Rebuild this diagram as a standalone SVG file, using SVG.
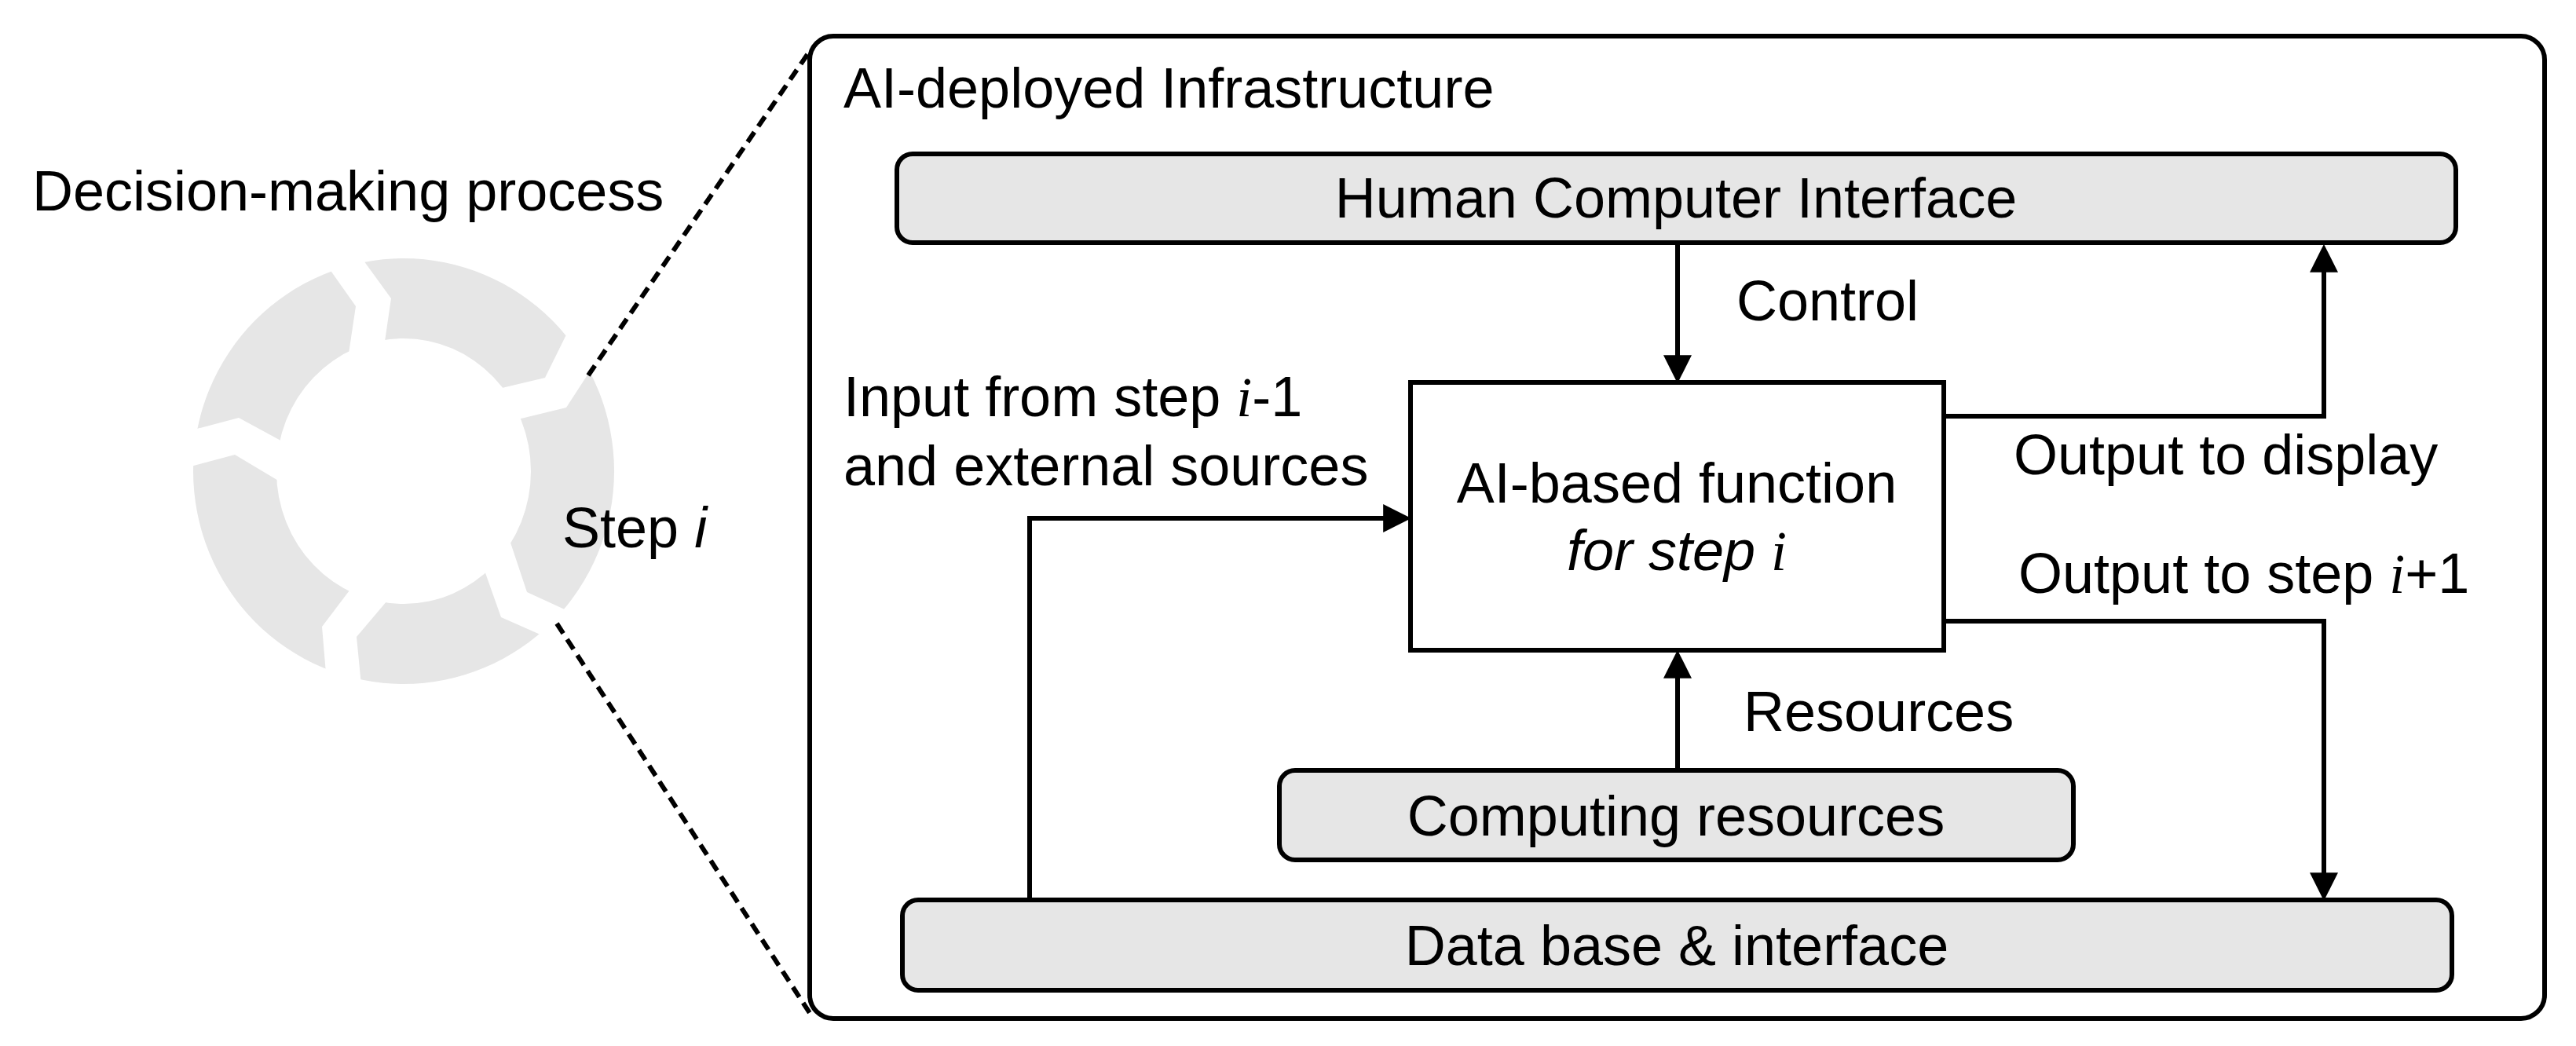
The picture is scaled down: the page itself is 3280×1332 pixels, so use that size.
<svg xmlns="http://www.w3.org/2000/svg" width="3280" height="1332" viewBox="0 0 3280 1332">
<style>
text{font-family:"Liberation Sans",Arial,sans-serif;font-size:72px;fill:#000}
.c{text-anchor:middle}
.it{font-style:italic}
.mi{font-family:"Liberation Serif","Times New Roman",serif;font-style:italic}
.box{fill:#e6e6e6;stroke:#000;stroke-width:6}
.wbox{fill:#fff;stroke:#000;stroke-width:6}
.ln{fill:none;stroke:#000;stroke-width:6}
.dash{fill:none;stroke:#000;stroke-width:6;stroke-dasharray:15 9}
.gap{fill:#fff}
</style>
<defs>
<marker id="ah" markerUnits="userSpaceOnUse" markerWidth="36" markerHeight="36" viewBox="0 0 34 34" refX="14" refY="17" orient="auto">
<path d="M0,0 L34,17 L0,34 z" fill="#000"/>
</marker>
</defs>
<rect width="3280" height="1332" fill="#fff"/>

<g id="cycle">
<path fill="#e6e6e6" fill-rule="evenodd" d="M246,600 A268,271 0 1,0 782,600 A268,271 0 1,0 246,600 Z M352,600 A162,169 0 1,0 676,600 A162,169 0 1,0 352,600 Z"/>
<polygon class="gap" points="405,322 453,390 441,470 486,462 498,380 450,314"/>
<polygon class="gap" points="730,408 694,481 614,500 643,538 721,519 760,459"/>
<polygon class="gap" points="645,676 671,754 745,788 715,820 638,786 610,707"/>
<polygon class="gap" points="504,752 454,811 462,893 417,881 410,798 457,736"/>
<polygon class="gap" points="220,600 299,579 366,619 374,570 304,532 224,553"/>
<text x="41" y="268">Decision-making process</text>
<text x="716" y="697">Step <tspan class="it">i</tspan></text>
</g>

<g id="zoom-lines">
<line class="dash" x1="749" y1="478" x2="1031" y2="65"/>
<line class="dash" x1="709" y1="794" x2="1031" y2="1290"/>
</g>

<g id="infrastructure">
<rect x="1031" y="46" width="2209" height="1251" rx="30" fill="none" stroke="#000" stroke-width="6"/>
<text x="1074" y="137">AI-deployed Infrastructure</text>
</g>

<g id="hci">
<rect class="box" x="1142" y="196" width="1985" height="113" rx="20"/>
<text class="c" x="2134" y="277">Human Computer Interface</text>
</g>

<g id="ai-function">
<rect class="wbox" x="1796" y="487" width="679" height="341"/>
<text class="c" x="2135" y="640">AI-based function</text>
<text class="c" x="2135" y="726"><tspan class="it">for step </tspan><tspan class="mi">i</tspan></text>
</g>

<g id="computing">
<rect class="box" x="1629" y="981" width="1011" height="114" rx="20"/>
<text class="c" x="2134" y="1064">Computing resources</text>
</g>

<g id="database">
<rect class="box" x="1149" y="1146" width="1973" height="115" rx="20"/>
<text class="c" x="2135" y="1229">Data base &amp; interface</text>
</g>

<g id="connectors">
<path class="ln" d="M2136,309 V467" marker-end="url(#ah)"/>
<path class="ln" d="M2475,530 H2959 V332" marker-end="url(#ah)"/>
<path class="ln" d="M2475,791 H2959 V1126" marker-end="url(#ah)"/>
<path class="ln" d="M2136,981 V849" marker-end="url(#ah)"/>
<path class="ln" d="M1311,1146 V660 H1776" marker-end="url(#ah)"/>
</g>

<g id="labels">
<text x="2211" y="408">Control</text>
<text x="2564" y="604">Output to display</text>
<text x="2570" y="755">Output to step <tspan class="mi">i</tspan>+1</text>
<text x="2220" y="931">Resources</text>
<text x="1074" y="530">Input from step <tspan class="mi">i</tspan>-1</text>
<text x="1074" y="618">and external sources</text>
</g>
</svg>
